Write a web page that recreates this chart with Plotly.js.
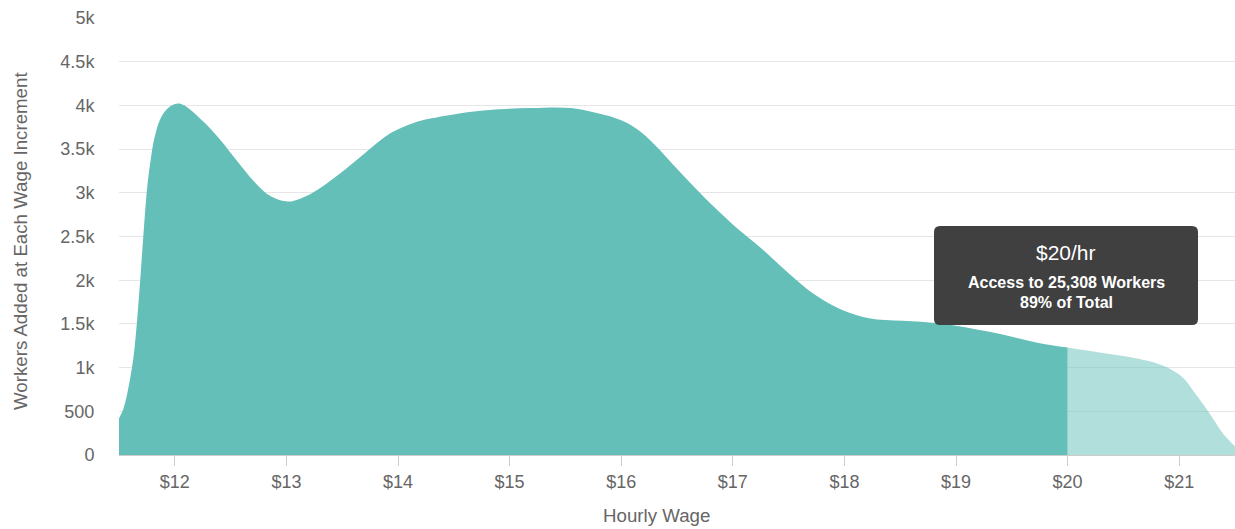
<!DOCTYPE html>
<html>
<head>
<meta charset="utf-8">
<script src="https://cdn.plot.ly/plotly-3.0.1.min.js"></script>
<style>
  html, body { margin: 0; padding: 0; background: #fff; }
  #chart { width: 1235px; height: 529px; }
</style>
</head>
<body>
<div id="chart"></div>
<script>
// ---- data ----
const wageAccessible = [11.5, 11.54, 11.58, 11.63, 11.66, 11.69, 11.72, 11.75, 11.78, 11.82, 11.88, 11.96, 12.05, 12.26, 12.41, 12.56, 12.71, 12.86, 13.02, 13.22, 13.46, 13.70, 13.93, 14.14, 14.29, 14.74, 15.19, 15.55, 15.79, 16.0, 16.15, 16.30, 16.51, 16.75, 16.99, 17.26, 17.50, 17.74, 17.98, 18.22, 18.52, 18.85, 19.3, 19.75, 20.0];
const workersAccessible = [420, 530, 740, 1120, 1510, 2000, 2540, 3030, 3340, 3640, 3870, 3990, 4020, 3810, 3600, 3360, 3130, 2960, 2900, 2990, 3200, 3450, 3680, 3800, 3850, 3940, 3970, 3970, 3910, 3830, 3720, 3550, 3260, 2940, 2650, 2360, 2080, 1830, 1660, 1565, 1535, 1505, 1410, 1280, 1230];
const wageBeyond = [20.0, 20.3, 20.6, 20.84, 21.02, 21.14, 21.27, 21.39, 21.5];
const workersBeyond = [1230, 1170, 1110, 1030, 900, 710, 480, 250, 100];

const xTickVals = [12, 13, 14, 15, 16, 17, 18, 19, 20, 21];
const xTickText = ['$12', '$13', '$14', '$15', '$16', '$17', '$18', '$19', '$20', '$21'];
const yTickVals = [0, 500, 1000, 1500, 2000, 2500, 3000, 3500, 4000, 4500, 5000];
const yTickText = ['0', '500', '1k', '1.5k', '2k', '2.5k', '3k', '3.5k', '4k', '4.5k', '5k'];

const tooltipTitle = '$20/hr';
const tooltipLine1 = 'Access to 25,308 Workers';
const tooltipLine2 = '89% of Total';
const xTitle = 'Hourly Wage';
const yTitle = 'Workers Added at Each Wage Increment';

// ---- layout geometry ----
const W = 1235, H = 529;
const M = { l: 119, r: 0, t: 18, b: 74 };
const pw = W - M.l - M.r, ph = H - M.t - M.b;
const px = x => (x - M.l) / pw;          // pixel -> paper x
const py = y => (H - M.b - y) / ph;      // pixel -> paper y

function roundRect(x0, y0, x1, y1, r) {
  const rx = r / pw, ry = r / ph;
  const a = px(x0), b = px(x1), c = py(y1), d = py(y0); // c bottom, d top
  return `M ${a + rx},${c} L ${b - rx},${c} Q ${b},${c} ${b},${c + ry} L ${b},${d - ry} Q ${b},${d} ${b - rx},${d} L ${a + rx},${d} Q ${a},${d} ${a},${d - ry} L ${a},${c + ry} Q ${a},${c} ${a + rx},${c} Z`;
}

const teal = 'rgb(99,191,183)';
const tealLight = 'rgba(99,191,183,0.5)';
const font = 'Arial, "Liberation Sans", sans-serif';

const traces = [
  {
    x: wageAccessible, y: workersAccessible,
    type: 'scatter', mode: 'lines', fill: 'tozeroy',
    line: { width: 0, shape: 'spline', smoothing: 1, color: teal },
    fillcolor: teal, hoverinfo: 'skip'
  },
  {
    x: wageBeyond, y: workersBeyond,
    type: 'scatter', mode: 'lines', fill: 'tozeroy',
    line: { width: 0, shape: 'spline', smoothing: 1, color: tealLight },
    fillcolor: tealLight, hoverinfo: 'skip'
  }
];

const layout = {
  width: W, height: H,
  margin: M,
  paper_bgcolor: '#fff', plot_bgcolor: '#fff',
  showlegend: false,
  font: { family: font, color: '#666', size: 18 },
  xaxis: {
    range: [11.5, 21.5],
    tickvals: xTickVals, ticktext: xTickText,
    ticks: 'outside', ticklen: 10, tickcolor: '#ccc', tickwidth: 1,
    showgrid: false, zeroline: false,
    showline: true, linecolor: '#ccc', linewidth: 1,
    tickfont: { family: font, size: 18, color: '#666' },
    fixedrange: true
  },
  yaxis: {
    range: [0, 5000],
    tickvals: yTickVals, ticktext: yTickText,
    ticks: 'outside', ticklen: 20, tickcolor: 'rgba(0,0,0,0)',
    showgrid: true, gridcolor: '#e6e6e6', gridwidth: 1,
    zeroline: false, showline: false,
    tickfont: { family: font, size: 18, color: '#666' },
    fixedrange: true
  },
  shapes: [
    {
      type: 'path', xref: 'paper', yref: 'paper', layer: 'above',
      path: roundRect(934, 226, 1198, 325, 6),
      fillcolor: 'rgb(64,64,64)', line: { width: 0 }
    }
  ],
  annotations: [
    { xref: 'paper', yref: 'paper', x: px(656), y: py(515), text: xTitle, showarrow: false,
      xanchor: 'center', yanchor: 'middle', font: { family: font, size: 18.7, color: '#666' } },
    { xref: 'paper', yref: 'paper', x: px(20), y: py(241), text: yTitle, showarrow: false, textangle: -90,
      xanchor: 'center', yanchor: 'middle', font: { family: font, size: 18.7, color: '#666' } },
    { xref: 'paper', yref: 'paper', x: px(1066), y: py(253), text: tooltipTitle, showarrow: false,
      xanchor: 'center', yanchor: 'middle', font: { family: font, size: 21, color: '#fff' } },
    { xref: 'paper', yref: 'paper', x: px(1066), y: py(282), text: '<b>' + tooltipLine1 + '</b>', showarrow: false,
      xanchor: 'center', yanchor: 'middle', font: { family: font, size: 16, color: '#fff' } },
    { xref: 'paper', yref: 'paper', x: px(1066), y: py(302), text: '<b>' + tooltipLine2 + '</b>', showarrow: false,
      xanchor: 'center', yanchor: 'middle', font: { family: font, size: 16, color: '#fff' } }
  ]
};

Plotly.newPlot('chart', traces, layout, { displayModeBar: false, staticPlot: true });
</script>
</body>
</html>
